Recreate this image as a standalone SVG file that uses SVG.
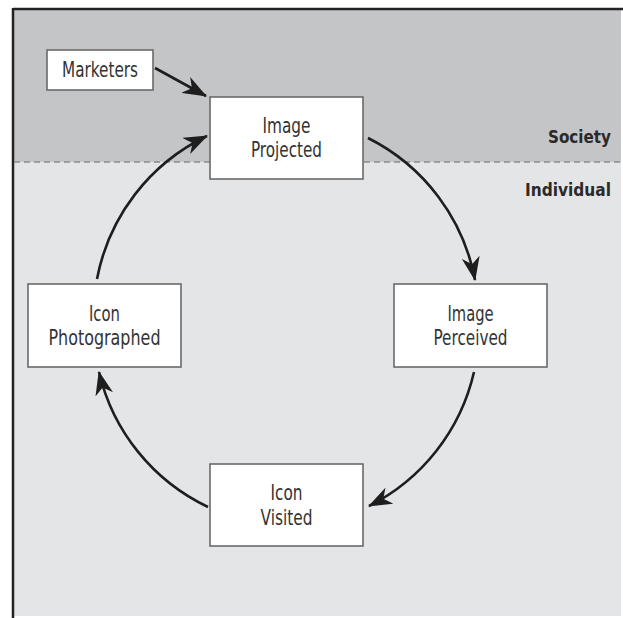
<svg xmlns="http://www.w3.org/2000/svg" width="623" height="618" viewBox="0 0 623 618">
  <style>
    .box { fill: #ffffff; stroke: #6a6a6a; stroke-width: 1.6; }
    .lbl { font-family: "DejaVu Sans Condensed", "Liberation Sans", sans-serif; font-size: 21px; fill: #333333; text-anchor: middle; }
    .zone { font-family: "DejaVu Sans Condensed", "Liberation Sans", sans-serif; font-size: 18px; font-weight: bold; fill: #2a2a2a; text-anchor: end; }
    .conn { fill: none; stroke: #1e1e1e; stroke-width: 2.6; marker-end: url(#arrow); }
  </style>
  <defs>
    <marker id="arrow" viewBox="0 0 24 18" refX="23" refY="9" markerWidth="24" markerHeight="18" markerUnits="userSpaceOnUse" orient="auto">
      <path d="M0,0 L24,9 L0,18 L7,9 Z" fill="#1e1e1e"/>
    </marker>
  </defs>

  <rect x="0" y="0" width="623" height="618" fill="#ffffff"/>
  <rect x="13" y="9" width="608" height="153" fill="#c4c5c7"/>
  <rect x="13" y="162" width="608" height="454" fill="#e4e5e7"/>
  <line x1="13" y1="9" x2="623" y2="9" stroke="#222222" stroke-width="2.5"/>
  <line x1="13" y1="8" x2="13" y2="618" stroke="#222222" stroke-width="2.5"/>
  <line x1="14" y1="162" x2="621" y2="162" stroke="#8a8a8a" stroke-width="1.6" stroke-dasharray="6,4"/>

  <text class="zone" x="611" y="143" textLength="63" lengthAdjust="spacingAndGlyphs">Society</text>
  <text class="zone" x="611" y="196" textLength="86" lengthAdjust="spacingAndGlyphs">Individual</text>

  <g id="connectors">
    <path class="conn" d="M155,68 L206,96"/>
    <path class="conn" d="M368,138 A200,200 0 0 1 475,280"/>
    <path class="conn" d="M474,372 A200,200 0 0 1 369,506"/>
    <path class="conn" d="M208,507 A200,200 0 0 1 99,372"/>
    <path class="conn" d="M97,279 A200,200 0 0 1 207,136"/>
  </g>

  <g id="marketers">
    <rect class="box" x="47" y="50" width="106" height="40"/>
    <text class="lbl" x="100" y="77" textLength="76" lengthAdjust="spacingAndGlyphs">Marketers</text>
  </g>

  <g id="image-projected">
    <rect class="box" x="210" y="97" width="153" height="82"/>
    <text class="lbl" x="286.5" y="133" textLength="48" lengthAdjust="spacingAndGlyphs">Image</text>
    <text class="lbl" x="286.5" y="157" textLength="71" lengthAdjust="spacingAndGlyphs">Projected</text>
  </g>

  <g id="image-perceived">
    <rect class="box" x="394" y="284" width="153" height="83"/>
    <text class="lbl" x="470.5" y="321" textLength="46" lengthAdjust="spacingAndGlyphs">Image</text>
    <text class="lbl" x="470.5" y="345" textLength="74" lengthAdjust="spacingAndGlyphs">Perceived</text>
  </g>

  <g id="icon-visited">
    <rect class="box" x="210" y="464" width="153" height="82"/>
    <text class="lbl" x="286.5" y="500" textLength="32" lengthAdjust="spacingAndGlyphs">Icon</text>
    <text class="lbl" x="286.5" y="525" textLength="52" lengthAdjust="spacingAndGlyphs">Visited</text>
  </g>

  <g id="icon-photographed">
    <rect class="box" x="28" y="284" width="153" height="83"/>
    <text class="lbl" x="104.5" y="321" textLength="31" lengthAdjust="spacingAndGlyphs">Icon</text>
    <text class="lbl" x="104.5" y="345" textLength="112" lengthAdjust="spacingAndGlyphs">Photographed</text>
  </g>
</svg>
